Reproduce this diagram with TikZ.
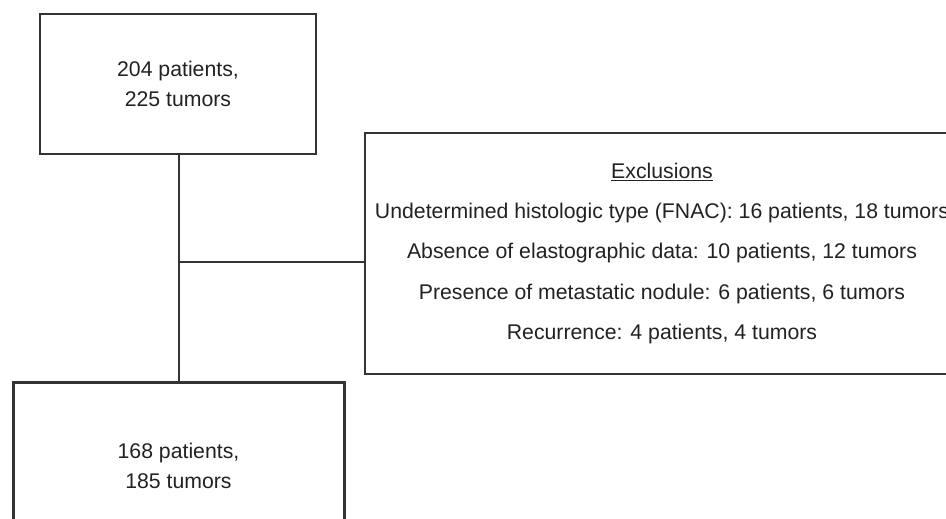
\documentclass[tikz,border=0pt]{standalone}
\usepackage{fontspec}
\setmainfont{Liberation Sans}
\definecolor{ink}{HTML}{222222}
\definecolor{edge}{HTML}{333333}
\begin{document}
\begin{tikzpicture}[x=1pt,y=-1pt,
  box/.style={draw=edge, line width=1.6pt, rectangle, inner sep=0pt, align=center,
    text=ink, font=\fontsize{21.25}{30}\selectfont},
  exclbox/.style={box, font=\fontsize{21.25}{40.25}\selectfont},
  finalbox/.style={box, line width=3pt},
  link/.style={draw=edge, line width=1.3pt}]
\useasboundingbox (0,0) rectangle (946,519);
\clip (0,0) rectangle (946,519);
\fill[white] (0,0) rectangle (946,519);
\node[box, minimum width=276pt, minimum height=140pt] (top) at (178,84)
  {204 patients,\\225 tumors};
\node[exclbox, minimum width=594pt, minimum height=241pt] (excl) at (662,253.5)
  {\underline{Exclusions}\\
   Undetermined histologic type (FNAC): 16 patients, 18 tumors\\
   Absence of elastographic data: 10 patients, 12 tumors\\
   Presence of metastatic nodule: 6 patients, 6 tumors\\
   Recurrence: 4 patients, 4 tumors};
\node[finalbox, minimum width=331pt, minimum height=167pt] (bot) at (178.5,465.5)
  {168 patients,\\185 tumors};
\coordinate (j) at (179,262);
\draw[link] (top.south -| j) -- (bot.north -| j);
\draw[link] (j) -- (j -| excl.west);
\end{tikzpicture}
\end{document}
